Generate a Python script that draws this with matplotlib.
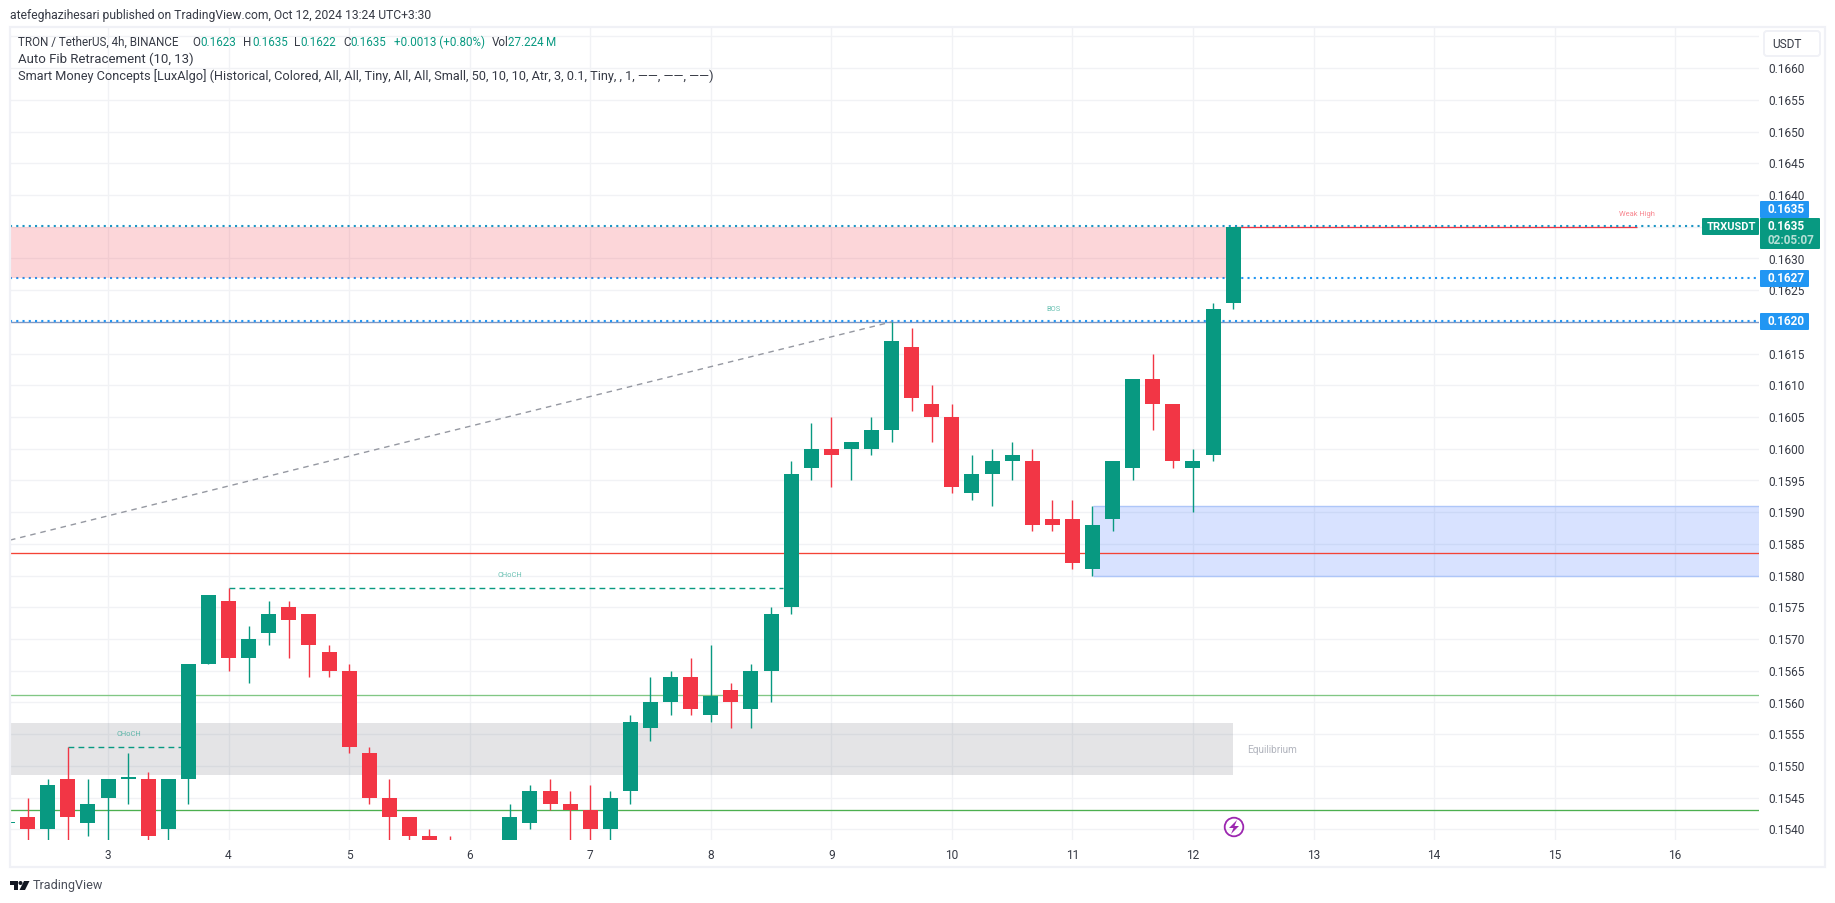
#!/usr/bin/env python
# TRXUSDT 4h chart, TradingView look
import numpy as np
import matplotlib
matplotlib.use("Agg")
import matplotlib.pyplot as plt
from matplotlib.patches import Circle, FancyBboxPatch, Polygon, Rectangle
from matplotlib.transforms import Affine2D

# one row per 4h candle, starts 5 bars before the day "3" tick
opens = [.1541, .1542, .1540, .1548, .1541, .1545, .1548, .1548, .1540, .1548, .1566, .1576, .1567, .1571, .1575,
         .1574, .1568, .1565, .1552, .1545, .1542, .1539, .1536, .1535, .1534, .1536, .1541, .1546, .1544, .1543,
         .1540, .1546, .1556, .1560, .1564, .1558, .1562, .1559, .1565, .1575, .1597, .1600, .1600, .1600, .1603,
         .1616, .1607, .1605, .1593, .1596, .1598, .1598, .1589, .1589, .1581, .1589, .1597, .1611, .1607, .1597,
         .1599, .1623]
highs = [.1541, .1545, .1548, .1553, .1548, .1548, .1552, .1549, .1548, .1566, .1577, .1578, .1572, .1576, .1576,
         .1574, .1569, .1566, .1553, .1548, .1542, .1540, .1539, .1537, .1537, .1544, .1547, .1548, .1546, .1547,
         .1546, .1558, .1564, .1565, .1567, .1569, .1563, .1566, .1575, .1598, .1604, .1605, .1601, .1605, .1620,
         .1619, .1610, .1607, .1599, .1600, .1601, .1600, .1592, .1592, .1591, .1598, .1611, .1615, .1607, .1600,
         .1623, .1635]
lows = [.1541, .1537, .1537, .1537, .1539, .1537, .1544, .1537, .1537, .1544, .1566, .1565, .1563, .1569, .1567,
        .1564, .1564, .1552, .1544, .1537, .1537, .1535, .1534, .1533, .1533, .1535, .1540, .1543, .1537, .1538,
        .1537, .1544, .1554, .1558, .1558, .1557, .1556, .1556, .1560, .1574, .1595, .1594, .1595, .1599, .1601,
        .1606, .1601, .1593, .1592, .1591, .1595, .1587, .1587, .1581, .1580, .1587, .1595, .1603, .1597, .1590,
        .1598, .1622]
closes = [.1541, .1540, .1547, .1542, .1544, .1548, .1548, .1539, .1548, .1566, .1577, .1567, .1570, .1574, .1573,
          .1569, .1565, .1553, .1545, .1542, .1539, .1536, .1535, .1534, .1536, .1542, .1546, .1544, .1543, .1540,
          .1545, .1557, .1560, .1564, .1559, .1561, .1560, .1565, .1574, .1596, .1600, .1599, .1601, .1603, .1617,
          .1608, .1605, .1594, .1596, .1598, .1599, .1588, .1588, .1582, .1588, .1598, .1611, .1607, .1598, .1598,
          .1622, .1635]

day_ticks = list(range(3, 17))
price_ticks = [.1540, .1545, .1550, .1555, .1560, .1565, .1570, .1575, .1580, .1585, .1590, .1595, .1600, .1605,
               .1610, .1615, .1620, .1625, .1630, .1635, .1640, .1645, .1650, .1655, .1660, .1665]

last_price = .1635
supply_zone = (.1627, .1635)
demand_zone = (.1580, .1591)
equilibrium_zone = (.15486, .15567)
bos_level = .1620
fib_red_level = .15836
fib_green_levels = [.15612, .15430]
fib_days = [2.187, 9.5]
fib_prices = [.15856, .1620]
choch_low = (2.667, 3.667, .1553)
choch_high = (4.0, 8.6, .1578)

RED = "#F23645"
GREEN = "#089981"
BLUE = "#2196F3"
GRID = "#F1F2F5"
TEXT = "#363A45"

plt.rcParams["font.family"] = ["Roboto", "DejaVu Sans"]
fig = plt.figure(figsize=(18.35, 9.031), dpi=100, facecolor="white")
PX = Affine2D().scale(1, -1).translate(0, 903)  # screen pixels, origin top left


def px_text(x, y, s, color=TEXT, size=8.6, **kw):
    kw.setdefault("va", "center")
    fig.text(x, y, s, color=color, fontsize=size, transform=PX, **kw)


ax = fig.add_axes([10 / 1835, 1 - 840 / 903, 1749 / 1835, 813 / 903])
px_per_day = 120.55
px_per_price = 31.71 / .0005
ax.set_xlim(3 + (10 - 108) / px_per_day, 3 + (1759 - 108) / px_per_day)
ax.set_ylim(.1660 - (840 - 68.3) / px_per_price, .1660 + (68.3 - 27) / px_per_price)
for s in ax.spines.values():
    s.set_visible(False)
ax.set_xticks(day_ticks)
ax.set_yticks(price_ticks)
ax.set_yticklabels(["" if p == .1665 else "%.4f" % p for p in price_ticks])
ax.yaxis.tick_right()
ax.tick_params(length=0, labelsize=8.6, labelcolor=TEXT)
ax.tick_params(axis="x", pad=6.5)
ax.tick_params(axis="y", pad=6.5)
ax.grid(True, color=GRID, lw=0.95, zorder=0)
ax.set_axisbelow(True)

left, right = ax.get_xlim()

# level lines under the zones
dots = (0, (1, 2))
ax.hlines(supply_zone[0], left, right, color=BLUE, lw=1.5, ls=dots, zorder=1)
ax.hlines(bos_level, left, right, color="#7E98C4", lw=0.95, zorder=1)
ax.hlines(bos_level + .000012, left, right, color=BLUE, lw=1.5, ls=dots, zorder=1)
ax.hlines(last_price, 12.33, 15.68, color=RED, lw=0.95, zorder=1)
ax.hlines(last_price + .000012, left, right, color="#1C95C4", lw=1.5, ls=dots, zorder=1)

# zones
ax.fill_between([left, 12.28], *supply_zone, color=RED, alpha=.2, lw=0, zorder=2)
ax.fill_between([left, 12.33], *equilibrium_zone, color="#787B86", alpha=.2, lw=0, zorder=2)
ax.fill_between([11.17, right], *demand_zone, color="#2962FF", alpha=.18, lw=0, zorder=2)
ax.hlines(demand_zone, 11.17, right, color="#AEC6F8", lw=1.0, zorder=2)

ax.hlines(fib_red_level, left, right, color="#F44336", lw=0.95, zorder=2.5)
ax.hlines(fib_green_levels[0], left, right, color="#81C784", lw=0.95, zorder=2.5)
ax.hlines(fib_green_levels[1], left, right, color="#4CAF50", lw=0.95, zorder=2.5)
ax.plot(fib_days, fib_prices, color="#9598A1", lw=1.0, ls=(0, (4, 3.5)), zorder=2.5)
ax.plot(choch_low[:2], [choch_low[2]] * 2, color=GREEN, lw=1.0, ls=(0, (4.2, 3)), zorder=2.5)
ax.plot(choch_high[:2], [choch_high[2]] * 2, color=GREEN, lw=1.0, ls=(0, (4.2, 3)), zorder=2.5)

# candles
o, h, l, c = map(np.array, (opens, highs, lows, closes))
xs = 3 + (np.arange(len(o)) - 5) / 6
colors = [GREEN if b >= a else RED for a, b in zip(o, c)]
ax.vlines(xs, l, h, colors=colors, lw=1.0, zorder=3)
ax.bar(xs, np.maximum(np.abs(c - o), .00002), bottom=np.minimum(o, c), width=15 / px_per_day, color=colors, lw=0, zorder=3)

# small labels on the chart
ax.text(3.17, .1555, "CHoCH", color=GREEN, alpha=.6, fontsize=5.4, ha="center", va="center", zorder=4)
ax.text(6.33, .15801, "CHoCH", color=GREEN, alpha=.6, fontsize=5.4, ha="center", va="center", zorder=4)
ax.text(10.84, .16219, "BOS", color=GREEN, alpha=.6, fontsize=5.4, ha="center", va="center", zorder=4)
ax.text(15.68, .1637, "Weak High", color=RED, alpha=.6, fontsize=5.4, ha="center", va="center", zorder=4)
ax.text(12.45, .15525, "Equilibrium", color="#B2B5BE", fontsize=7.2, ha="left", va="center", zorder=4)

# outer frame and top text
fig.add_artist(Rectangle((10, 27), 1815, 840, fill=False, ec="#F0F1F6", lw=1.6, transform=PX))
px_text(10, 15, "atefeghazihesari published on TradingView.com, Oct 12, 2024 13:24 UTC+3:30", size=8.7)
px_text(18, 42, "TRON / TetherUS, 4h, BINANCE", size=8.35)
for x, s in [(192, "O"), (243, "H"), (294, "L"), (343, "C"), (492, "Vol")]:
    px_text(x, 42, s, size=8.35)
for x, s in [(200, "0.1623"), (252, "0.1635"), (300, "0.1622"), (350, "0.1635"),
             (394, "+0.0013 (+0.80%)"), (508, "27.224\u2009M")]:
    px_text(x, 42, s, color=GREEN, size=8.35)
px_text(18, 59, "Auto Fib Retracement (10, 13)", size=9.5)
px_text(18, 76, "Smart Money Concepts [LuxAlgo] (Historical, Colored, All, All, Tiny, All, All, Small, 50, 10, 10, "
                "Atr, 3, 0.1, Tiny, , 1, \u2014\u2014, \u2014\u2014, \u2014\u2014)", size=9.15)

# USDT button
fig.add_artist(FancyBboxPatch((1764, 31), 56, 25, boxstyle="round,pad=0,rounding_size=3", fc="white", ec="#F0F1F6",
                              lw=1.4, transform=PX, zorder=5))
fig.text(1772, 44, "USDT", color=TEXT, fontsize=8.6, va="center", transform=PX, zorder=6)


# price tags on the right
def tag(x0, y0, x1, y1, color, label, tx, ty, size=8.5):
    fig.add_artist(FancyBboxPatch((x0, y0), x1 - x0, y1 - y0, boxstyle="round,pad=0,rounding_size=1", fc=color, lw=0,
                                  transform=PX, zorder=5))
    fig.text(tx, ty, label, color="white", fontsize=size, fontweight="bold", va="center", transform=PX, zorder=6)


tag(1760, 201, 1809, 218, BLUE, "0.1635", 1768, 209.5)
tag(1702, 218, 1759, 235, GREEN, "TRXUSDT", 1707, 226.5, size=8.0)
tag(1760, 218, 1820, 249, GREEN, "0.1635", 1768, 226.5)
fig.text(1768, 240.5, "02:05:07", color="#B5E0D6", fontsize=8.5, fontweight="bold", va="center", transform=PX, zorder=6)
tag(1760, 270, 1809, 287, BLUE, "0.1627", 1768, 278.5)
tag(1760, 313, 1809, 330, BLUE, "0.1620", 1768, 321.5)

# lightning badge
fig.add_artist(Circle((1234, 827), 9.3, fill=False, ec="#9C27B0", lw=1.3, transform=PX, zorder=5))
fig.add_artist(Polygon([(1237, 820), (1229, 828), (1233.5, 828), (1231, 834), (1239, 826), (1234.5, 826)],
                       fc="#9C27B0", lw=0, transform=PX, zorder=5))

# TradingView logo
fig.add_artist(Polygon([(10, 881), (18, 881), (18, 890), (14, 890), (14, 885), (10, 885)], fc="#131722", lw=0, transform=PX))
fig.add_artist(Circle((20.5, 883), 2, fc="#131722", lw=0, transform=PX))
fig.add_artist(Polygon([(24, 881), (29.5, 881), (25, 890), (19.5, 890)], fc="#131722", lw=0, transform=PX))
px_text(33, 885.5, "TradingView", color="#4A4E59", size=9.1)

plt.savefig("out.png", dpi=100)
